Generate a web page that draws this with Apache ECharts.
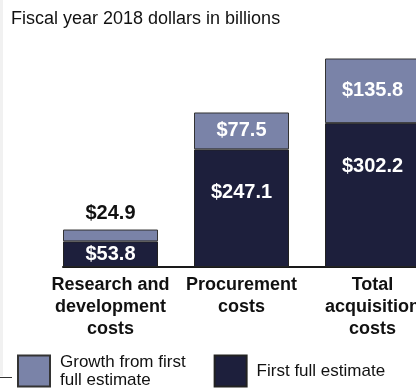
<!DOCTYPE html>
<html>
<head>
<meta charset="utf-8">
<script src="https://cdn.jsdelivr.net/npm/echarts@6/dist/echarts.min.js"></script>
<style>
  html, body { margin: 0; padding: 0; background: #fff; }
  #chart { width: 416px; height: 388px; }
</style>
</head>
<body>
<div id="chart"></div>
<script>
// 数据
const categories = ['Research and\ndevelopment\ncosts', 'Procurement\ncosts', 'Total\nacquisition\ncosts'];
const firstEstimate = [53.8, 247.1, 302.2];
const growth = [24.9, 77.5, 135.8];
const seriesNames = ['Growth from first full estimate', 'First full estimate'];

const darkColor = '#1d1f3c';
const lightColor = '#7a83a8';
const font = '"Liberation Sans", Arial, sans-serif';

let chart = echarts.init(document.getElementById('chart'));

let option = {
  animation: false,
  title: {
    text: 'Fiscal year 2018 dollars in billions',
    left: 11,
    top: 10,
    padding: 0,
    textStyle: {
      fontFamily: font,
      fontSize: 18,
      fontWeight: 'normal',
      color: '#111'
    }
  },
  graphic: [
    { type: 'rect', left: 0, top: 0, shape: { width: 3, height: 376 }, style: { fill: '#f1f1f1' } },
    { type: 'rect', left: 0, top: 377, shape: { width: 12, height: 1 }, style: { fill: '#333' } }
  ],
  legend: {
    left: 17,
    top: 353,
    padding: 0,
    icon: 'rect',
    itemWidth: 32,
    itemHeight: 31,
    itemGap: 28,
    selectedMode: false,
    data: seriesNames,
    formatter: function (name) {
      return name === seriesNames[0] ? 'Growth from first\nfull estimate' : name;
    },
    textStyle: {
      fontFamily: font,
      fontSize: 17,
      color: '#111',
      lineHeight: 18,
      padding: [0, 0, 0, 5]
    }
  },
  grid: [
    { left: 45, width: 393, top: 29, bottom: 121, outerBoundsMode: 'none', containLabel: false },
    { left: 63, right: 0, top: 29, bottom: 121, outerBoundsMode: 'none', containLabel: false }
  ],
  xAxis: [
    {
      type: 'category',
      gridIndex: 0,
      data: categories,
      axisLine: { show: false },
      axisTick: { show: false },
      axisLabel: {
        interval: 0,
        margin: 7,
        fontFamily: font,
        fontSize: 18,
        fontWeight: 'bold',
        color: '#111',
        lineHeight: 22
      }
    },
    {
      type: 'value',
      gridIndex: 1,
      axisLine: { show: true, lineStyle: { color: '#1a1a1a', width: 2 } },
      axisTick: { show: false },
      axisLabel: { show: false },
      splitLine: { show: false }
    }
  ],
  yAxis: [
    { type: 'value', gridIndex: 0, min: 0, max: 500, show: false },
    { type: 'value', gridIndex: 1, show: false }
  ],
  series: [
    {
      name: seriesNames[1],
      type: 'bar',
      stack: 'total',
      barWidth: 95,
      itemStyle: { color: darkColor, borderColor: '#222', borderWidth: 1 },
      data: firstEstimate.map(function (v) {
        return {
          value: v,
          label: v < 100
            ? { position: 'inside' }
            : { position: 'insideTop', distance: 33 }
        };
      }),
      label: {
        show: true,
        formatter: '${c}',
        fontFamily: font,
        fontSize: 20,
        fontWeight: 'bold',
        color: '#fff'
      }
    },
    {
      name: seriesNames[0],
      type: 'bar',
      stack: 'total',
      barWidth: 95,
      itemStyle: { color: lightColor, borderColor: '#333', borderWidth: 1 },
      data: growth.map(function (v) {
        return {
          value: v,
          label: v < 50
            ? { position: 'top', distance: 6, color: '#111' }
            : { position: 'inside' }
        };
      }),
      label: {
        show: true,
        formatter: '${c}',
        fontFamily: font,
        fontSize: 20,
        fontWeight: 'bold',
        color: '#fff'
      }
    }
  ]
};

chart.setOption(option);
</script>
</body>
</html>
